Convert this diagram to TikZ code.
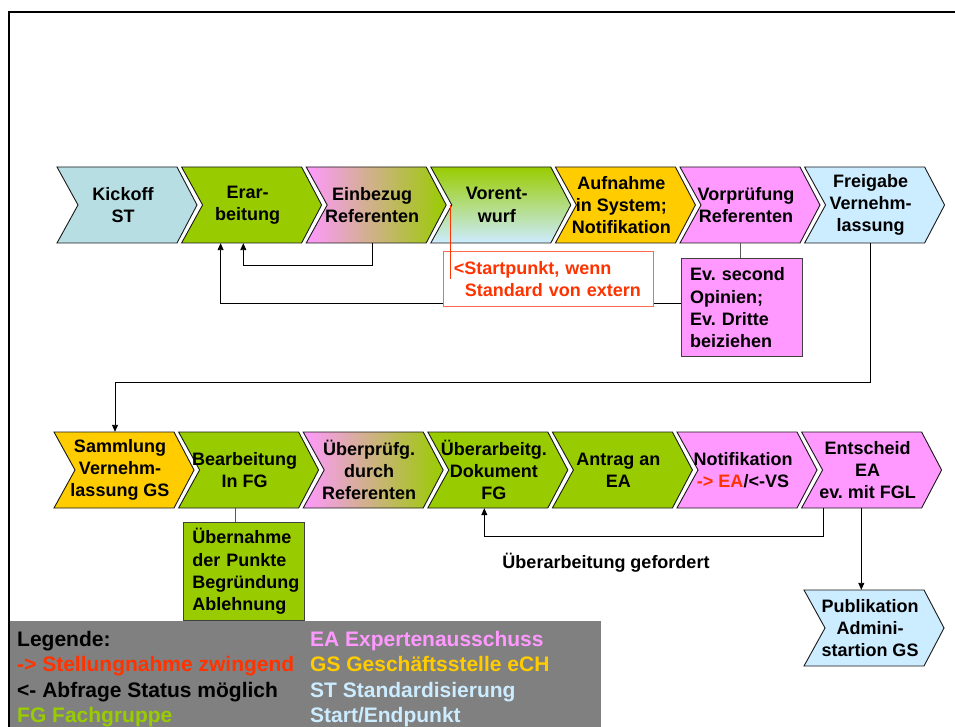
\documentclass[tikz,border=0pt]{standalone}
\usepackage{fontspec}
\setmainfont{Liberation Sans}
\usetikzlibrary{arrows.meta}
\frenchspacing
\definecolor{cgreen}{HTML}{99CC00}
\definecolor{cpink}{HTML}{FF99FF}
\definecolor{cgold}{HTML}{FFCC00}
\definecolor{cblue}{HTML}{CCECFF}
\definecolor{cteal}{HTML}{B7DEE3}
\definecolor{cred}{HTML}{FF3300}
\definecolor{cbox}{HTML}{FF6A4D}
\definecolor{legbg}{HTML}{808080}
\newcommand\cvfont{\fontsize{18}{22.3}\selectfont\bfseries}
\newcommand\lgfont{\fontsize{21}{25}\selectfont\bfseries}
\tikzset{
  chevshape/.style={draw=black!90, line width=0.9pt},
  chevtext/.style={minimum width=132pt, minimum height=76pt, inner sep=0pt, align=center, font=\cvfont},
  infobox/.style={draw=black!75, line width=0.9pt, anchor=north west, minimum width=121pt, minimum height=98pt, text width=103pt, inner xsep=9pt, inner ysep=0pt, align=left, font=\cvfont},
  conn/.style={draw=black, line width=0.9pt},
  arr/.style={conn, -{Triangle[length=7pt,width=6pt]}},
  gconn/.style={draw=black!65, line width=0.9pt},
  lbl/.style={inner sep=0pt, font=\cvfont},
  leg/.style={inner sep=0pt, anchor=base west, font=\lgfont}
}
\newcommand\chev[5]{%
  \path[chevshape,#4] (#2,#3) -- ({#2+120},#3) -- ({#2+140},{#3+38}) -- ({#2+120},{#3+76}) -- (#2,{#3+76}) -- ({#2+21},{#3+38}) -- cycle;
  \node[chevtext] (#1) at ({#2+66},{#3+38}) {#5};
}
\begin{document}
\begin{tikzpicture}[x=1pt,y=-1pt]
\useasboundingbox (0,0) rectangle (955,727);
\clip (0,0) rectangle (955,727);
\fill[white] (0,0) rectangle (955,727);
% row 1
\chev{kick}{57}{167}{fill=cteal}{Kickoff\\ST}
\chev{era}{181.6}{167}{fill=cgreen}{Erar-\\beitung}
\chev{ein}{306.2}{167}{left color=cpink,right color=cgreen}{Einbezug\\Referenten}
\chev{vor}{430.8}{167}{top color=cgreen,bottom color=cblue}{Vorent-\\wurf}
\chev{auf}{555.4}{167}{fill=cgold}{Aufnahme\\in System;\\Notifikation}
\chev{vpr}{680}{167}{fill=cpink}{Vorprüfung\\Referenten}
\chev{frei}{804.6}{167}{fill=cblue}{Freigabe\\Vernehm-\\lassung}
% row 2
\chev{sam}{54}{432}{fill=cgold}{Sammlung\\Vernehm-\\lassung GS}
\chev{bea}{178.6}{432}{fill=cgreen}{Bearbeitung\\In FG}
\chev{uep}{303.2}{432}{left color=cpink,right color=cgreen}{Überprüfg.\\durch\\Referenten}
\chev{uea}{427.8}{432}{fill=cgreen}{Überarbeitg.\\Dokument\\FG}
\chev{ant}{552.4}{432}{fill=cgreen}{Antrag an\\EA}
\chev{noti}{677}{432}{fill=cpink}{Notifikation\\\textcolor{cred}{-> EA}/<-VS}
\chev{ent}{801.6}{432}{fill=cpink}{Entscheid\\EA\\ev. mit FGL}
\chev{pub}{804}{590}{fill=cblue}{Publikation\\Admini-\\startion GS}
% info boxes
\node[infobox, fill=cpink] (ev) at (680.7,258.3) {Ev. second\\Opinien;\\Ev. Dritte\\beiziehen};
\node[infobox, fill=cgreen] (ueb) at (183,522) {Übernahme\\der Punkte\\Begründung\\Ablehnung};
% connectors
\draw[gconn] ([xshift=-6pt]vpr.south) -- ([xshift=-6pt]vpr.south |- ev.north);
\draw[gconn] ([xshift=-9pt]bea.south) -- ([xshift=-9pt]bea.south |- ueb.north);
\draw[arr] (ein.south) -- ++(0,22.7) -| ([xshift=-4.3pt]era.south);
\draw[arr] ([yshift=4.6pt]ev.west) -| ([xshift=-27pt]era.south);
\draw[arr] (frei.south) -- ++(0,139) -| ([xshift=-5pt]sam.north);
\draw[arr] ([xshift=-44.3pt]ent.south) -- ++(0,28.7) -| ([xshift=-9.5pt]uea.south);
\draw[arr] ([xshift=-6.3pt]ent.south) -- ([xshift=-8.7pt]pub.north);
\node[lbl, anchor=base] (gef) at (606,568) {Überarbeitung gefordert};
% start box
\node[draw=cbox, line width=1pt, fill=white, anchor=north west, minimum width=210pt, minimum height=55.3pt, text width=190pt, inner xsep=10pt, inner ysep=0pt, align=left, text=cred, font=\cvfont] (start) at (443.3,250.7) {<Startpunkt, wenn\\\hspace*{11pt}Standard von extern};
\coordinate (redtop) at ([xshift=-46.3pt]vor.center);
\draw[cred, line width=0.9pt] (redtop) -- (redtop |- start.center);
% legend
\fill[legbg] (10,621) rectangle (601,730);
\node[leg] (l1) at (17,646) {Legende:};
\node[leg, text=cred] (l2) at (17,671.5) {-> Stellungnahme zwingend};
\node[leg] (l3) at (17,697) {<- Abfrage Status möglich};
\node[leg, text=cgreen] (l4) at (17,722.5) {FG Fachgruppe};
\node[leg, text=cpink] (r1) at (310,646) {EA Expertenausschuss};
\node[leg, text=cgold] (r2) at (310,671.5) {GS Geschäftsstelle eCH};
\node[leg, text=cblue] (r3) at (310,697) {ST Standardisierung};
\node[leg, text=cblue] (r4) at (310,722.5) {Start/Endpunkt};
% frame
\draw[line width=1.8pt] (8.8,740) -- (8.8,12.3) -- (965,12.3);
\end{tikzpicture}
\end{document}
